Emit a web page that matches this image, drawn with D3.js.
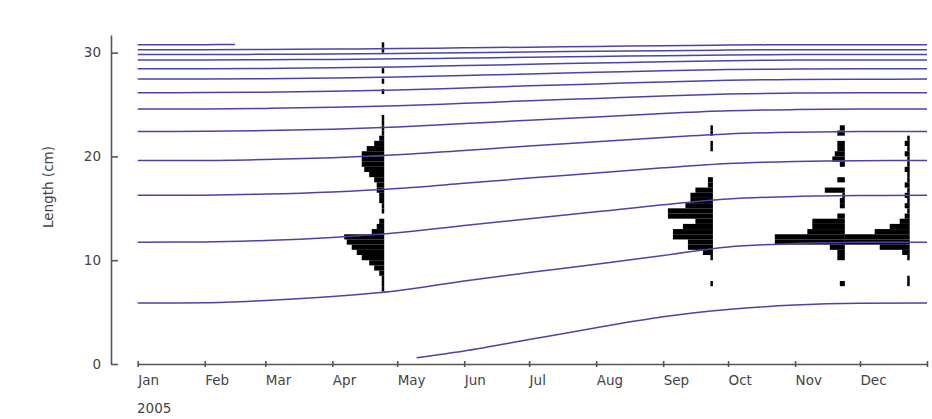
<!DOCTYPE html>
<html>
<head>
<meta charset="utf-8">
<script src="https://cdn.jsdelivr.net/npm/d3@7"></script>
<style>
  html, body { margin: 0; padding: 0; background: #fff; }
  svg { display: block; }
  text { font-family: "DejaVu Sans", sans-serif; fill: #444; }
</style>
</head>
<body>
<script>
// Month boundaries used for every full-year growth curve
const yearDates = ["2005-01-01","2005-02-01","2005-03-01","2005-04-01","2005-05-01","2005-06-01",
  "2005-07-01","2005-08-01","2005-09-01","2005-10-01","2005-11-01","2005-12-01","2006-01-01"];

// Growth curves (length in cm), one per cohort
const age0Dates = ["2005-05-10","2005-06-01","2005-07-01","2005-08-01","2005-09-01","2005-10-01","2005-11-01","2005-12-01","2006-01-01"];
const age0 = [0.6, 1.25, 2.35, 3.5, 4.55, 5.25, 5.68, 5.85, 5.88];
const age1 = [5.88, 5.90, 6.12, 6.50, 7.06, 8.00, 8.81, 9.62, 10.45, 11.28, 11.60, 11.72, 11.74];
const age2 = [11.74, 11.76, 11.90, 12.20, 12.65, 13.35, 14.00, 14.66, 15.35, 15.90, 16.15, 16.23, 16.25];
const age3 = [16.25, 16.27, 16.37, 16.58, 16.91, 17.41, 17.91, 18.40, 18.90, 19.32, 19.52, 19.59, 19.60];
const age4 = [19.60, 19.61, 19.70, 19.88, 20.16, 20.58, 21.00, 21.42, 21.83, 22.17, 22.33, 22.40, 22.41];
const age5 = [22.41, 22.42, 22.49, 22.63, 22.84, 23.17, 23.49, 23.81, 24.13, 24.39, 24.51, 24.56, 24.57];
const age6 = [24.57, 24.58, 24.63, 24.73, 24.88, 25.12, 25.36, 25.59, 25.82, 26.01, 26.10, 26.13, 26.14];
const age7 = [26.14, 26.15, 26.19, 26.27, 26.40, 26.60, 26.80, 26.99, 27.18, 27.34, 27.41, 27.44, 27.45];
const age8 = [27.45, 27.46, 27.49, 27.55, 27.65, 27.80, 27.95, 28.10, 28.25, 28.37, 28.42, 28.44, 28.45];
const age9 = [28.45, 28.45, 28.48, 28.54, 28.62, 28.75, 28.88, 29.00, 29.13, 29.23, 29.28, 29.30, 29.30];
const age10 = [29.30, 29.30, 29.32, 29.35, 29.40, 29.48, 29.56, 29.64, 29.71, 29.78, 29.81, 29.82, 29.82];
const age11 = [29.82, 29.82, 29.84, 29.87, 29.91, 29.99, 30.06, 30.13, 30.19, 30.25, 30.28, 30.29, 30.29];
const age12 = [30.29, 30.29, 30.31, 30.34, 30.39, 30.46, 30.53, 30.60, 30.67, 30.73, 30.76, 30.77, 30.77];
const age13Dates = ["2005-01-01","2005-02-01","2005-02-15"];
const age13 = [30.77, 30.77, 30.78];

// Length-frequency samples: 0.5 cm classes (lower edges) and counts per sample
const lengthClasses = [7.0, 7.5, 8.0, 8.5, 9.0, 9.5, 10.0, 10.5, 11.0, 11.5, 12.0, 12.5, 13.0, 13.5, 14.0, 14.5,
  15.0, 15.5, 16.0, 16.5, 17.0, 17.5, 18.0, 18.5, 19.0, 19.5, 20.0, 20.5, 21.0, 21.5, 22.0, 22.5,
  23.0, 23.5, 24.0, 24.5, 25.0, 25.5, 26.0, 26.5, 27.0, 27.5, 28.0, 28.5, 29.0, 29.5, 30.0, 30.5];
const sampleDates = ["2005-04-25", "2005-09-24", "2005-11-24", "2005-12-24"];
const aprCounts = [1,1,1,2,4,6,9,11,13,15,16,5,3,2,0,1, 1,2,2,3,3,4,6,8,9,9,9,7,4,2,1,1, 1,1,0,0,0,0,1,0,1,0,1,0,0,0,1,1];
const sepCounts = [0,1,0,0,0,0,1,4,10,10,16,16,12,7,18,18, 11,9,9,7,2,2,0,0,0,0,0,1,1,0,1,1, 0,0,0,0,0,0,0,0,0,0,0,0,0,0,0,0];
const novCounts = [0,2,0,0,0,0,3,3,6,28,28,15,13,13,3,0, 2,2,1,8,0,3,0,0,2,5,4,3,3,0,3,2, 0,0,0,0,0,0,0,0,0,0,0,0,0,0,0,0];
const decCounts = [0,1,1,0,0,0,1,3,12,26,26,14,8,4,2,1, 2,1,2,1,2,1,1,2,1,1,2,1,2,1,0,0, 0,0,0,0,0,0,0,0,0,0,0,0,0,0,0,0];

const monthLabels = ["Jan","Feb","Mar","Apr","May","Jun","Jul","Aug","Sep","Oct","Nov","Dec"];
const yTicks = [0, 10, 20, 30];
const yearLabel = "2005";
const yTitle = "Length (cm)";

const W = 932, H = 419;
const FONT = "13.5px";
const parse = d3.utcParse("%Y-%m-%d");

const svg = d3.select("body").append("svg").attr("width", W).attr("height", H);
svg.append("rect").attr("width", W).attr("height", H).attr("fill", "#fff");

const x = d3.scaleUtc().domain([parse("2005-01-01"), parse("2006-01-01")]).range([137.7, 927]);
const y = d3.scaleLinear().domain([0, 31.7]).range([364, 35]);
const freq = d3.scaleLinear().domain([0, 1]).range([0, 2.5]);

// Histograms: bars drawn leftward from each sampling date
const samples = [aprCounts, sepCounts, novCounts, decCounts];
const bars = svg.append("g");
samples.forEach((counts, i) => {
  const x0 = x(parse(sampleDates[i]));
  bars.selectAll(null)
    .data(lengthClasses.map((l, j) => ({ l, n: counts[j] })).filter(d => d.n > 0))
    .join("rect")
    .attr("x", d => x0 - freq(d.n))
    .attr("width", d => freq(d.n))
    .attr("y", d => y(d.l + 0.5))
    .attr("height", d => y(d.l) - y(d.l + 0.5))
    .attr("fill", "#000");
});

// Growth curves
const curves = [
  [age0Dates, age0], [yearDates, age1], [yearDates, age2], [yearDates, age3], [yearDates, age4],
  [yearDates, age5], [yearDates, age6], [yearDates, age7], [yearDates, age8], [yearDates, age9],
  [yearDates, age10], [yearDates, age11], [yearDates, age12], [age13Dates, age13]
];
const line = d3.line().x(d => x(d[0])).y(d => y(d[1])).curve(d3.curveMonotoneX);
svg.append("g").selectAll("path")
  .data(curves.map(([ds, vs]) => ds.map((s, k) => [parse(s), vs[k]])))
  .join("path")
  .attr("d", line)
  .attr("fill", "none")
  .attr("stroke", "#4a44aa")
  .attr("stroke-width", 1.5);

// Y axis with inward ticks
const yAxis = svg.append("g").attr("transform", "translate(111,0)")
  .call(d3.axisLeft(y).tickValues(yTicks).tickSizeInner(-7).tickSizeOuter(0).tickPadding(10));
yAxis.select(".domain").attr("stroke", "#555").attr("stroke-width", 1.6);
yAxis.selectAll(".tick line").attr("stroke", "#555").attr("stroke-width", 1.6);
yAxis.selectAll("text").style("font-size", FONT).attr("fill", "#444");

// X axis: month ticks crossing the line, labels left-aligned at each tick
const tickDates = yearDates.map(parse);
const xAxis = svg.append("g").attr("transform", "translate(0,364)")
  .call(d3.axisBottom(x).tickValues(tickDates).tickSizeInner(3).tickSizeOuter(0)
    .tickFormat((d, i) => monthLabels[i] || ""));
xAxis.select(".domain").attr("stroke", "#555").attr("stroke-width", 1.6);
xAxis.selectAll(".tick line").attr("y1", -3).attr("stroke", "#555").attr("stroke-width", 1.6);
xAxis.selectAll("text")
  .attr("text-anchor", "start").attr("x", 0).attr("y", 17).attr("dy", "0.32em")
  .style("font-size", FONT).attr("fill", "#444");

svg.append("text").attr("x", 137).attr("y", 413).style("font-size", FONT).text(yearLabel);

svg.append("text")
  .attr("transform", "translate(48,187) rotate(-90)")
  .attr("text-anchor", "middle").attr("dy", "0.35em")
  .style("font-size", FONT)
  .text(yTitle);
</script>
</body>
</html>
